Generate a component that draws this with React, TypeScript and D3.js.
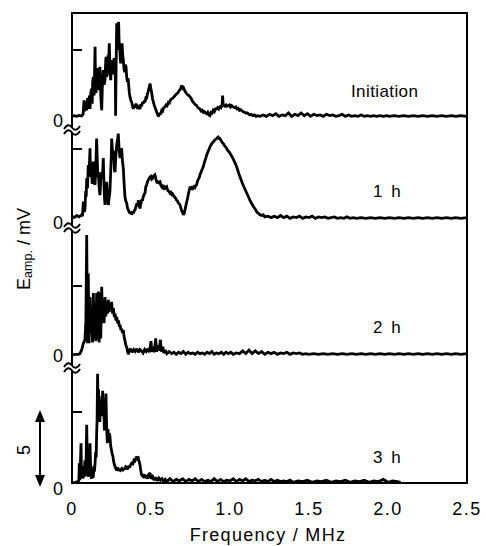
import React from "react";
import * as d3 from "d3";

type Pt = [number, number];

const xTicks = [0, 0.5, 1.0, 1.5, 2.0, 2.5];
const xTickLabels = ["0", "0.5", "1.0", "1.5", "2.0", "2.5"];
const seriesLabels = ["Initiation", "1 h", "2 h", "3 h"];
const yTickValue = 5;
const scaleBarValue = "5";

// Initiation spectrum (MHz, mV)
const initiation: Pt[] = [
  [0,0.05],[0.015,0.1],[0.03,0.05],[0.045,0.12],[0.06,0.08],[0.07,0.2],[0.076,1.25],[0.079,0.4],[0.082,1.2],[0.087,0.5],
  [0.09,1.0],[0.093,0.5],[0.098,1.4],[0.103,1.3],[0.106,0.6],[0.11,1.6],[0.114,0.6],[0.119,1.8],[0.124,2.1],[0.128,1.0],
  [0.131,2.6],[0.135,3.0],[0.14,1.6],[0.146,5.25],[0.149,2.2],[0.152,1.8],[0.156,3.2],[0.16,3.65],[0.164,2.0],[0.169,3.0],
  [0.173,2.4],[0.177,3.75],[0.182,1.6],[0.185,1.0],[0.188,0.5],[0.192,2.2],[0.198,3.5],[0.203,2.4],[0.209,2.75],[0.212,3.8],
  [0.215,4.5],[0.219,3.0],[0.224,3.2],[0.228,4.6],[0.232,4.2],[0.236,5.5],[0.24,3.6],[0.245,2.75],[0.249,3.8],[0.253,4.25],
  [0.257,3.4],[0.262,3.2],[0.266,4.4],[0.27,4.0],[0.274,3.4],[0.276,0.1],[0.279,3.6],[0.283,7.0],[0.286,5.0],[0.289,6.0],
  [0.292,5.2],[0.295,7.1],[0.298,5.6],[0.302,5.2],[0.305,4.4],[0.308,4.0],[0.312,4.8],[0.317,5.5],[0.321,4.6],[0.325,4.25],
  [0.329,3.6],[0.334,3.35],[0.338,3.9],[0.342,3.75],[0.346,3.0],[0.351,2.6],[0.355,2.9],[0.359,2.35],[0.363,1.8],[0.367,1.5],
  [0.372,1.25],[0.378,1.1],[0.383,0.8],[0.388,0.6],[0.394,0.9],[0.4,0.7],[0.405,1.0],[0.409,0.85],[0.415,0.6],[0.42,0.9],
  [0.425,0.7],[0.43,0.6],[0.436,0.95],[0.441,0.8],[0.446,1.1],[0.451,1.0],[0.456,1.2],[0.462,1.1],[0.467,1.4],[0.472,1.35],
  [0.477,1.7],[0.482,1.9],[0.488,2.2],[0.494,2.5],[0.499,2.1],[0.504,1.85],[0.509,1.4],[0.515,1.1],[0.52,0.9],[0.526,0.7],
  [0.532,0.5],[0.538,0.3],[0.543,0.15],[0.549,0.05],[0.555,0.3],[0.561,0.2],[0.568,0.5],[0.574,0.45],[0.58,0.7],[0.589,0.75],
  [0.595,0.9],[0.602,0.85],[0.61,1.1],[0.617,1.05],[0.624,1.3],[0.631,1.35],[0.638,1.4],[0.645,1.5],[0.652,1.6],[0.659,1.7],
  [0.666,1.75],[0.673,1.85],[0.68,2.0],[0.687,2.1],[0.694,2.35],[0.699,2.15],[0.705,2.2],[0.712,2.0],[0.719,1.85],[0.726,1.75],
  [0.733,1.65],[0.74,1.6],[0.747,1.5],[0.754,1.4],[0.761,1.2],[0.768,1.1],[0.775,1.0],[0.782,0.9],[0.789,0.85],[0.796,0.7],
  [0.803,0.65],[0.81,0.6],[0.817,0.45],[0.824,0.5],[0.831,0.35],[0.838,0.4],[0.845,0.3],[0.852,0.25],[0.859,0.35],[0.866,0.15],
  [0.873,0.1],[0.88,0.35],[0.887,0.3],[0.894,0.5],[0.901,0.4],[0.908,0.6],[0.915,0.6],[0.922,0.7],[0.929,0.6],[0.936,0.75],
  [0.943,0.7],[0.95,0.9],[0.953,1.6],[0.957,0.9],[0.961,0.85],[0.968,0.8],[0.975,0.9],[0.982,0.8],[0.989,0.85],[0.996,0.9],
  [1.003,0.75],[1.01,0.85],[1.02,0.75],[1.028,0.7],[1.036,0.75],[1.044,0.6],[1.052,0.65],[1.06,0.5],[1.068,0.55],[1.076,0.45],
  [1.084,0.4],[1.092,0.35],[1.1,0.3],[1.11,0.3],[1.12,0.2],[1.127,0.15],[1.135,0.2],[1.145,0.1],[1.155,0.15],[1.165,0.05],
  [1.175,0.1],[1.19,0.05],[1.21,0.15],[1.23,0.05],[1.25,0.2],[1.27,0.1],[1.29,0.25],[1.31,0.05],[1.33,0.15],[1.35,0.1],
  [1.37,0.3],[1.39,0.05],[1.41,0.2],[1.43,0.1],[1.45,0.3],[1.47,0.1],[1.49,0.25],[1.51,0.05],[1.53,0.2],[1.55,0.1],
  [1.57,0.15],[1.59,0.05],[1.61,0.2],[1.63,0.1],[1.65,0.15],[1.67,0.05],[1.69,0.1],[1.71,0.2],[1.73,0.05],[1.75,0.15],
  [1.77,0.05],[1.79,0.1],[1.81,0.05],[1.83,0.15],[1.85,0.05],[1.87,0.1],[1.89,0.05],[1.91,0.1],[1.93,0.05],[1.95,0.1],
  [1.97,0.05],[1.99,0.1],[2.01,0.05],[2.04,0.1],[2.07,0.05],[2.1,0.1],[2.13,0.05],[2.16,0.1],[2.19,0.05],[2.22,0.1],
  [2.25,0.05],[2.28,0.1],[2.31,0.05],[2.34,0.1],[2.37,0.05],[2.4,0.1],[2.43,0.05],[2.46,0.1],[2.5,0.05],
];

// 1 h spectrum
const hour1: Pt[] = [
  [0,0.2],[0.015,0.1],[0.03,0.25],[0.045,0.15],[0.06,0.3],[0.066,0.2],[0.072,1.25],[0.077,0.5],[0.082,0.7],[0.087,2.0],
  [0.09,1.6],[0.093,2.9],[0.098,2.2],[0.103,3.85],[0.108,3.2],[0.114,5.05],[0.117,3.0],[0.12,4.0],[0.124,3.35],[0.128,2.5],
  [0.131,3.8],[0.135,4.1],[0.14,2.6],[0.146,2.45],[0.15,3.6],[0.153,4.6],[0.156,5.75],[0.16,4.2],[0.164,3.0],[0.167,3.35],
  [0.171,2.4],[0.174,2.0],[0.177,1.7],[0.182,2.8],[0.188,3.35],[0.193,3.0],[0.198,4.35],[0.202,2.6],[0.205,1.6],[0.209,1.0],
  [0.214,1.9],[0.219,2.65],[0.224,1.8],[0.23,1.0],[0.235,1.5],[0.24,1.95],[0.245,3.4],[0.249,4.6],[0.251,5.75],[0.256,4.9],
  [0.262,4.8],[0.266,4.2],[0.269,3.5],[0.272,3.35],[0.277,4.4],[0.283,5.3],[0.288,5.6],[0.293,6.1],[0.298,5.0],[0.304,4.35],
  [0.309,4.9],[0.314,5.05],[0.319,4.2],[0.325,3.6],[0.33,2.5],[0.335,1.6],[0.34,1.3],[0.346,1.15],[0.351,0.8],[0.356,0.65],
  [0.362,0.5],[0.368,0.4],[0.373,0.55],[0.378,0.3],[0.384,0.5],[0.389,0.4],[0.394,0.6],[0.399,0.65],[0.405,0.9],[0.41,1.1],
  [0.415,0.9],[0.42,1.35],[0.425,1.0],[0.43,0.75],[0.436,1.1],[0.441,1.4],[0.446,1.3],[0.451,1.6],[0.457,1.75],[0.462,1.85],
  [0.467,2.3],[0.472,2.4],[0.477,2.65],[0.483,2.8],[0.488,2.9],[0.494,3.0],[0.5,3.05],[0.505,2.85],[0.51,2.9],[0.515,3.05],
  [0.52,3.1],[0.525,3.15],[0.53,2.9],[0.535,2.7],[0.54,2.55],[0.546,2.7],[0.551,2.6],[0.557,2.65],[0.563,2.4],[0.568,2.3],
  [0.573,2.35],[0.578,2.2],[0.583,2.1],[0.588,2.3],[0.594,2.25],[0.599,2.3],[0.604,2.1],[0.609,2.0],[0.615,1.95],[0.62,1.85],
  [0.625,1.9],[0.631,1.75],[0.636,1.8],[0.641,1.7],[0.646,1.6],[0.652,1.55],[0.657,1.45],[0.662,1.35],[0.667,1.3],[0.673,1.15],
  [0.678,1.1],[0.684,1.0],[0.689,0.8],[0.694,0.6],[0.7,0.45],[0.705,0.3],[0.71,0.4],[0.715,0.65],[0.72,0.9],[0.725,1.2],
  [0.73,1.4],[0.735,1.7],[0.741,2.0],[0.747,2.3],[0.752,2.2],[0.757,2.25],[0.763,2.1],[0.768,2.2],[0.773,2.3],[0.778,2.25],
  [0.784,2.4],[0.789,2.45],[0.794,2.7],[0.8,2.85],[0.805,2.95],[0.81,3.15],[0.815,3.3],[0.82,3.45],[0.826,3.6],[0.831,3.75],
  [0.836,3.95],[0.841,4.15],[0.847,4.35],[0.852,4.55],[0.857,4.7],[0.862,4.85],[0.868,5.0],[0.873,5.15],[0.878,5.25],[0.883,5.35],
  [0.889,5.45],[0.894,5.5],[0.9,5.6],[0.905,5.65],[0.91,5.7],[0.915,5.75],[0.92,5.8],[0.925,5.85],[0.931,5.75],[0.936,5.75],
  [0.941,5.65],[0.946,5.55],[0.952,5.45],[0.957,5.4],[0.962,5.3],[0.968,5.2],[0.973,5.15],[0.978,5.05],[0.983,4.95],[0.989,4.85],
  [0.994,4.8],[1.0,4.7],[1.01,4.5],[1.02,4.3],[1.03,4.05],[1.04,3.8],[1.05,3.45],[1.06,3.1],[1.07,2.8],[1.08,2.5],
  [1.09,2.25],[1.1,2.0],[1.11,1.75],[1.12,1.5],[1.13,1.25],[1.14,1.05],[1.15,0.85],[1.16,0.7],[1.17,0.5],[1.18,0.4],
  [1.19,0.3],[1.2,0.25],[1.21,0.3],[1.22,0.15],[1.24,0.2],[1.26,0.1],[1.28,0.2],[1.3,0.1],[1.32,0.25],[1.34,0.1],
  [1.36,0.2],[1.38,0.05],[1.4,0.15],[1.42,0.1],[1.44,0.2],[1.46,0.05],[1.48,0.15],[1.5,0.1],[1.52,0.2],[1.54,0.05],
  [1.56,0.15],[1.58,0.1],[1.6,0.15],[1.62,0.05],[1.64,0.1],[1.66,0.15],[1.68,0.05],[1.7,0.1],[1.72,0.05],[1.74,0.15],
  [1.76,0.05],[1.78,0.1],[1.8,0.05],[1.83,0.1],[1.86,0.05],[1.89,0.1],[1.92,0.05],[1.95,0.1],[1.98,0.05],[2.01,0.1],
  [2.04,0.05],[2.07,0.1],[2.1,0.05],[2.13,0.1],[2.16,0.05],[2.19,0.1],[2.22,0.05],[2.25,0.1],[2.28,0.05],[2.31,0.1],
  [2.34,0.05],[2.37,0.1],[2.4,0.05],[2.43,0.1],[2.46,0.05],[2.5,0.1],
];

// 2 h spectrum
const hour2: Pt[] = [
  [0,0],[0.02,0.05],[0.04,0.05],[0.051,0.1],[0.062,0.4],[0.072,0.85],[0.082,1.1],[0.088,2.5],[0.093,8.7],[0.098,0.85],
  [0.103,5.9],[0.108,0.85],[0.114,4.2],[0.119,1.6],[0.124,3.2],[0.13,0.9],[0.135,4.5],[0.14,1.1],[0.146,3.8],[0.151,1.0],
  [0.156,4.5],[0.161,1.1],[0.167,4.6],[0.172,0.9],[0.177,4.5],[0.182,1.2],[0.188,4.95],[0.193,2.3],[0.198,4.0],[0.203,2.3],
  [0.209,4.2],[0.214,2.8],[0.219,3.85],[0.224,3.0],[0.23,4.0],[0.235,3.1],[0.24,3.7],[0.246,3.4],[0.251,3.85],[0.257,3.0],
  [0.262,3.4],[0.268,2.75],[0.273,3.0],[0.278,2.5],[0.283,2.75],[0.289,2.3],[0.294,2.5],[0.3,2.05],[0.304,2.2],[0.31,1.8],
  [0.315,1.9],[0.32,1.6],[0.325,1.8],[0.33,1.3],[0.336,1.0],[0.341,0.7],[0.346,0.6],[0.351,0.3],[0.356,0.05],[0.362,0.3],
  [0.37,0.45],[0.38,0.2],[0.39,0.4],[0.4,0.25],[0.41,0.45],[0.42,0.2],[0.43,0.4],[0.44,0.3],[0.45,0.15],[0.46,0.4],
  [0.47,0.25],[0.48,0.45],[0.49,0.2],[0.5,1.0],[0.505,0.25],[0.515,0.6],[0.52,0.2],[0.53,1.2],[0.535,0.25],[0.545,0.7],
  [0.55,0.3],[0.56,1.1],[0.565,0.25],[0.575,0.6],[0.58,0.15],[0.59,0.35],[0.6,0.1],[0.615,0.25],[0.63,0.1],[0.645,0.2],
  [0.66,0.05],[0.675,0.2],[0.69,0.1],[0.705,0.25],[0.72,0.05],[0.735,0.2],[0.75,0.1],[0.765,0.15],[0.78,0.05],[0.795,0.2],
  [0.81,0.1],[0.825,0.15],[0.84,0.05],[0.855,0.2],[0.87,0.1],[0.885,0.25],[0.9,0.05],[0.915,0.15],[0.93,0.1],[0.945,0.2],
  [0.96,0.05],[0.975,0.2],[0.99,0.1],[1.005,0.2],[1.02,0.05],[1.04,0.15],[1.06,0.1],[1.08,0.3],[1.1,0.1],[1.12,0.35],
  [1.14,0.1],[1.16,0.3],[1.18,0.1],[1.2,0.25],[1.22,0.05],[1.24,0.2],[1.26,0.1],[1.28,0.2],[1.3,0.05],[1.32,0.15],
  [1.34,0.1],[1.36,0.2],[1.38,0.05],[1.4,0.15],[1.42,0.1],[1.44,0.15],[1.46,0.05],[1.48,0.1],[1.5,0.05],[1.53,0.1],
  [1.56,0.05],[1.59,0.1],[1.62,0.05],[1.65,0.1],[1.68,0.05],[1.71,0.1],[1.74,0.05],[1.77,0.1],[1.8,0.05],[1.83,0.1],
  [1.86,0.05],[1.89,0.1],[1.92,0.05],[1.95,0.1],[1.98,0.05],[2.01,0.1],[2.04,0.05],[2.07,0.1],[2.1,0.05],[2.13,0.1],
  [2.16,0.05],[2.19,0.1],[2.22,0.05],[2.25,0.1],[2.28,0.05],[2.31,0.1],[2.34,0.05],[2.37,0.1],[2.4,0.05],[2.43,0.1],
  [2.46,0.05],[2.5,0.1],
];

// 3 h spectrum
const hour3: Pt[] = [
  [0,0],[0.02,0.05],[0.04,0.1],[0.044,0.3],[0.046,1.4],[0.049,0.2],[0.052,0.9],[0.057,2.8],[0.06,0.6],[0.064,1.0],
  [0.068,0.3],[0.072,1.2],[0.076,0.4],[0.082,1.6],[0.086,0.5],[0.09,2.0],[0.093,4.1],[0.097,1.2],[0.1,0.6],[0.103,0.45],
  [0.107,1.5],[0.11,0.7],[0.114,2.8],[0.118,1.0],[0.121,0.5],[0.124,0.3],[0.128,1.1],[0.131,0.4],[0.135,0.45],[0.139,1.2],
  [0.142,0.8],[0.146,1.4],[0.15,2.2],[0.153,1.8],[0.156,3.5],[0.159,4.5],[0.162,7.7],[0.165,5.5],[0.168,6.6],[0.171,5.0],
  [0.173,6.1],[0.176,4.3],[0.18,5.6],[0.184,4.7],[0.187,5.8],[0.19,5.2],[0.194,6.5],[0.197,4.8],[0.2,5.4],[0.205,3.7],
  [0.208,4.9],[0.211,5.4],[0.215,6.3],[0.218,4.5],[0.221,3.4],[0.224,2.8],[0.228,3.8],[0.232,3.0],[0.236,3.5],[0.24,3.3],
  [0.245,2.6],[0.25,2.3],[0.255,2.0],[0.259,1.9],[0.262,1.6],[0.268,1.3],[0.273,1.15],[0.278,1.0],[0.283,0.9],[0.289,1.1],
  [0.294,0.85],[0.3,1.0],[0.306,0.9],[0.314,1.0],[0.32,0.85],[0.327,1.05],[0.333,0.95],[0.34,1.15],[0.346,1.1],[0.352,0.95],
  [0.358,1.2],[0.365,1.1],[0.372,1.3],[0.378,1.4],[0.385,1.35],[0.392,1.6],[0.398,1.55],[0.404,1.75],[0.41,1.85],[0.415,1.7],
  [0.42,1.75],[0.425,1.5],[0.43,1.3],[0.435,0.9],[0.44,0.6],[0.445,0.5],[0.45,0.45],[0.457,0.6],[0.464,0.35],[0.471,0.55],
  [0.478,0.3],[0.485,0.6],[0.494,0.7],[0.5,0.3],[0.51,0.45],[0.52,0.2],[0.53,0.4],[0.54,0.15],[0.55,0.35],[0.56,0.2],
  [0.57,0.3],[0.58,0.1],[0.59,0.25],[0.6,0.1],[0.62,0.3],[0.64,0.1],[0.66,0.25],[0.68,0.15],[0.7,0.3],[0.72,0.1],
  [0.74,0.25],[0.76,0.15],[0.78,0.3],[0.8,0.1],[0.82,0.25],[0.84,0.1],[0.86,0.2],[0.88,0.1],[0.9,0.3],[0.92,0.1],
  [0.94,0.25],[0.96,0.1],[0.98,0.2],[1.0,0.15],[1.02,0.3],[1.04,0.1],[1.06,0.25],[1.08,0.15],[1.1,0.3],[1.12,0.1],
  [1.14,0.2],[1.16,0.15],[1.18,0.25],[1.2,0.1],[1.22,0.2],[1.24,0.1],[1.26,0.25],[1.28,0.1],[1.3,0.2],[1.32,0.1],
  [1.34,0.15],[1.36,0.1],[1.38,0.2],[1.4,0.05],[1.43,0.15],[1.46,0.1],[1.49,0.2],[1.52,0.05],[1.55,0.15],[1.58,0.1],
  [1.61,0.2],[1.64,0.05],[1.67,0.15],[1.7,0.1],[1.73,0.2],[1.76,0.05],[1.79,0.15],[1.82,0.1],[1.85,0.2],[1.88,0.05],
  [1.91,0.15],[1.94,0.1],[1.97,0.25],[2.0,0.05],[2.03,0.15],[2.06,0.1],[2.08,0.05],
];

const FONT = "'Liberation Sans', Arial, Helvetica, sans-serif";

const W = 486;
const H = 546;
const L = 72;
const R = 467;
const T = 13;
const B = 483;

const panelLayout = [
  { zero: 117, tick: 50, zeroLabelY: 127, lx: 351, ly: 97 },
  { zero: 219, tick: 149, zeroLabelY: 229, lx: 373, ly: 197 },
  { zero: 355, tick: 286, zeroLabelY: 362, lx: 373, ly: 333 },
  { zero: 483, tick: 412, zeroLabelY: 495, lx: 373, ly: 463 },
];
const breakYs = [130, 228, 368];

function tilde(cx: number, cy: number): string {
  return `M${cx - 8},${cy + 1.5} C${cx - 5},${cy - 3.5} ${cx - 2},${cy - 3} ${cx},${cy} S${cx + 5},${cy + 3.5} ${cx + 8},${cy - 1.5}`;
}

export default function App() {
  const x = d3.scaleLinear().domain([0, 2.5]).range([L, R]);
  const series = [initiation, hour1, hour2, hour3];

  return (
    <svg
      width={W}
      height={H}
      style={{ position: "absolute", left: 0, top: 0, background: "#fff" }}
      fontFamily={FONT}
    >
      <rect x={0} y={0} width={W} height={H} fill="#fff" />
      {series.map((data, i) => {
        const p = panelLayout[i];
        const y = d3.scaleLinear().domain([0, yTickValue]).range([p.zero, p.tick]);
        const line = d3
          .line<Pt>()
          .x((d) => x(d[0]))
          .y((d) => y(d[1]));
        return (
          <g key={i}>
            <path
              d={line(data) || ""}
              fill="none"
              stroke="#000"
              strokeWidth={2.8}
              strokeLinejoin="miter"
              strokeMiterlimit={2}
            />
            <line x1={L} x2={L + 10} y1={y(yTickValue)} y2={y(yTickValue)} stroke="#000" strokeWidth={2} />
            <text x={63} y={p.zeroLabelY} textAnchor="end" fontSize={18}>
              0
            </text>
            <text x={p.lx} y={p.ly} fontSize={17} wordSpacing={i === 0 ? 0 : 3} letterSpacing={i === 0 ? 0.4 : 0.5}>
              {seriesLabels[i]}
            </text>
          </g>
        );
      })}

      {/* frame */}
      <rect x={L} y={T} width={R - L} height={B - T} fill="none" stroke="#000" strokeWidth={2} />

      {/* axis breaks */}
      {breakYs.map((by, i) => (
        <g key={`br${i}`}>
          <rect x={L - 2} y={by - 2.5} width={4} height={5} fill="#fff" />
          <path d={tilde(L, by - 2.5)} fill="none" stroke="#000" strokeWidth={1.8} />
          <path d={tilde(L, by + 2.5)} fill="none" stroke="#000" strokeWidth={1.8} />
        </g>
      ))}

      {/* x tick labels */}
      {xTicks.map((t, i) => (
        <text key={`xt${i}`} x={x(t)} y={515} textAnchor="middle" fontSize={18} letterSpacing={1.5}>
          {xTickLabels[i]}
        </text>
      ))}

      <text x={268} y={541} textAnchor="middle" fontSize={18} letterSpacing={1.3}>
        Frequency / MHz
      </text>

      <text transform="translate(30,249) rotate(-90)" textAnchor="middle" fontSize={18}>
        <tspan>E</tspan>
        <tspan fontSize={12.5} dy={2}>amp.</tspan>
        <tspan dy={-2}> / mV</tspan>
      </text>

      {/* scale arrow */}
      <line x1={40} x2={40} y1={418} y2={479} stroke="#000" strokeWidth={2} />
      <path d="M40,410 L35,422 L45,422 Z" fill="#000" />
      <path d="M40,487 L35,475 L45,475 Z" fill="#000" />
      <text transform="translate(30,450) rotate(-90)" textAnchor="middle" fontSize={18}>
        {scaleBarValue}
      </text>
    </svg>
  );
}
